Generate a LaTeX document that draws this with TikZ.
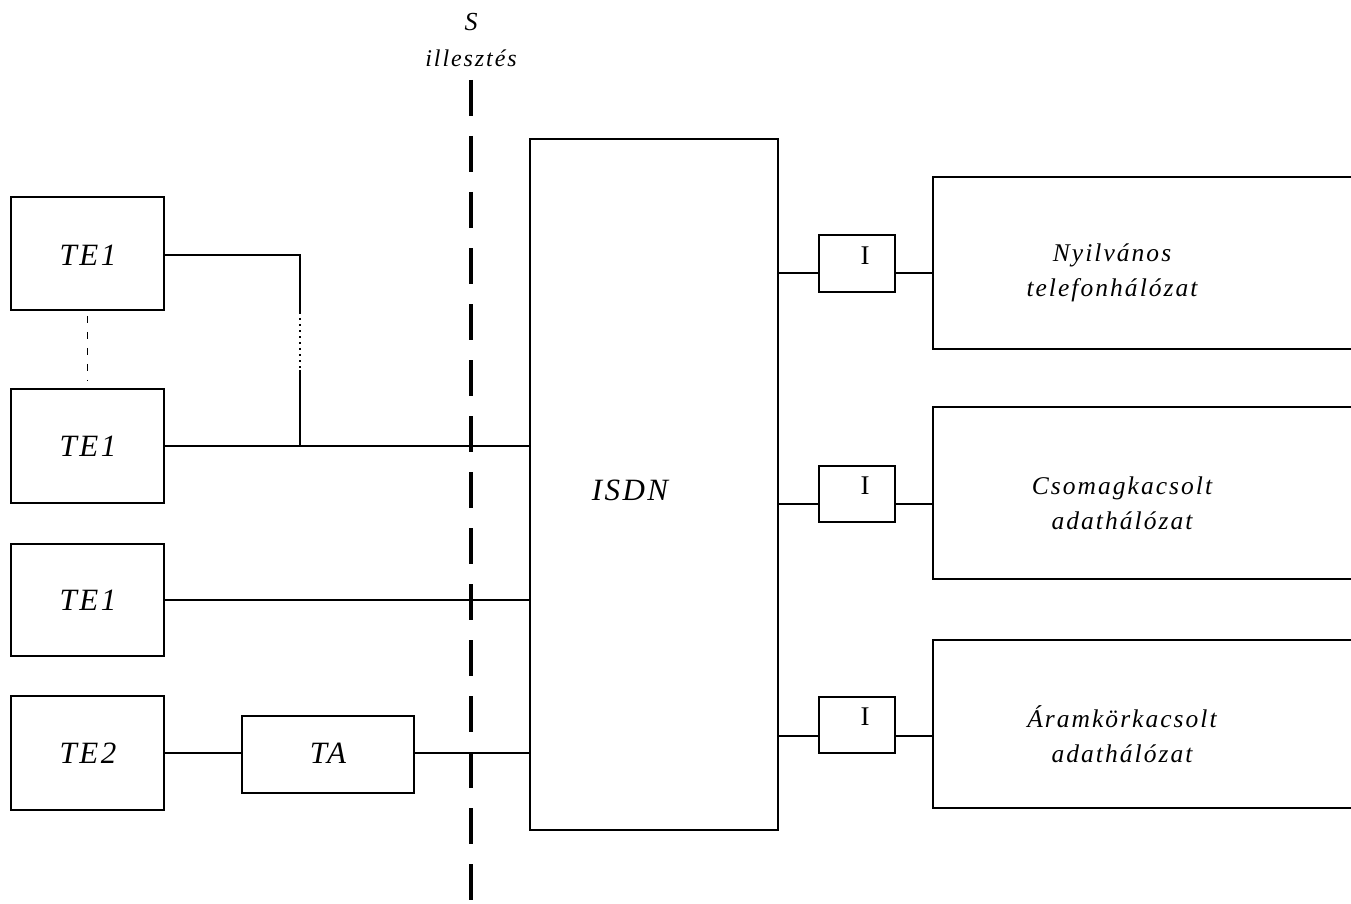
\documentclass[tikz,border=0pt]{standalone}
\usepackage{fontspec}
\usetikzlibrary{calc}
\setmainfont{Liberation Serif}
\newfontfamily\lbl[LetterSpace=8]{Liberation Serif}
\begin{document}
\begin{tikzpicture}[x=1pt,y=-1pt,
  box/.style={draw,line width=1.7pt,inner sep=0pt},
  wire/.style={line width=1.7pt},
  lab/.style={font=\lbl\itshape\fontsize{31}{31}\selectfont},
  rlab/.style={font=\lbl\itshape\fontsize{25.5}{35}\selectfont,align=center},
  ilab/.style={font=\fontsize{27}{27}\selectfont}]
\useasboundingbox (0,0) rectangle (1351,904);
\clip (0,0) rectangle (1351,904);
% left boxes
\node[box,minimum width=153pt,minimum height=113pt] (te1a) at (87.5,253.5) {};
\node[lab] at (88,255) {TE1};
\node[box,minimum width=153pt,minimum height=114pt] (te1b) at (87.5,446) {};
\node[lab] at (88,446) {TE1};
\node[box,minimum width=153pt,minimum height=112pt] (te1c) at (87.5,600) {};
\node[lab] at (88,600) {TE1};
\node[box,minimum width=153pt,minimum height=114pt] (te2) at (87.5,753) {};
\node[lab] at (88,753) {TE2};
\node[box,minimum width=172pt,minimum height=77pt] (ta) at (328,754.5) {};
\node[lab] at (328,753) {TA};
\node[box,minimum width=248pt,minimum height=691pt] (isdn) at (654,484.5) {};
\node[lab] at (630,490) {ISDN};
% S interface
\node[font=\itshape\fontsize{26}{26}\selectfont] (s) at (471,22) {S};
\node[font=\lbl\itshape\fontsize{24}{24}\selectfont] (ill) at (471,58) {illesztés};
\coordinate (dtop) at (471,80);
\coordinate (dbot) at (471,904);
\draw[line width=4pt,dash pattern=on 36pt off 20pt] (dtop) -- (dbot);
% wiring left
\coordinate (j1) at (300,255);
\coordinate (j2) at (300,312);
\coordinate (j3) at (300,370);
\coordinate (j4) at (300,446);
\draw[wire] (te1a.east |- j1) -- (j1) -- (j2);
\draw[line width=1.3pt,dash pattern=on 2pt off 4pt] (j2) -- (j3);
\draw[wire] (j3) -- (j4);
\draw[line width=1.7pt,dash pattern=on 7pt off 9pt] ($(te1a.south)+(0,5)$) -- ($(te1b.north)+(0,-8)$);
\draw[wire] (te1b.east) -- (te1b.east -| isdn.west);
\draw[wire] (te1c.east) -- (te1c.east -| isdn.west);
\draw[wire] (te2.east) -- (ta.west |- te2.east);
\draw[wire] (ta.east |- te2.east) -- (isdn.west |- te2.east);
% right side
\foreach \n/\by/\bh/\iy/\ih/\ly/\tx/\ta/\tb in
  {1/263/172/263.5/57/273/1112/Nyilvános/telefonhálózat,
   2/493/172/494/56/504/1122/Csomagkacsolt/adathálózat,
   3/724/168/725/56/736/1122/Áramkörkacsolt/adathálózat}{
  \node[box,minimum width=76pt,minimum height=\ih pt] (i\n) at (857,\iy) {};
  \node[ilab] at (865,\iy-8) {I};
  \node[box,minimum width=500pt,minimum height=\bh pt,anchor=west] (net\n) at (932,\by) {};
  \node[rlab] at (\tx,\by+10) {\ta\\\tb};
  \coordinate (l\n) at (0,\ly);
  \draw[wire] (isdn.east |- l\n) -- (i\n.west |- l\n);
  \draw[wire] (i\n.east |- l\n) -- (net\n.west |- l\n);
}
\end{tikzpicture}
\end{document}
